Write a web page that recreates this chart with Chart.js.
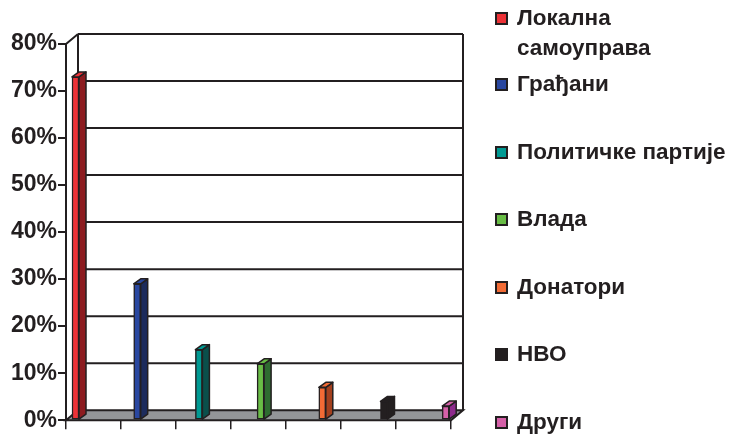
<!DOCTYPE html>
<html>
<head>
<meta charset="utf-8">
<script src="https://cdn.jsdelivr.net/npm/chart.js@4"></script>
<style>
body{margin:0;background:#fff;}
#wrap{position:relative;width:730px;height:435px;overflow:hidden;}
#c{position:absolute;left:0;top:0;}
#legend{position:absolute;left:495px;top:0;width:235px;height:435px;font:bold 22.5px "Liberation Sans",Arial,sans-serif;color:#231f20;}
.item{position:absolute;left:0;line-height:30px;white-space:nowrap;}
.box{position:absolute;left:0;top:9px;width:9px;height:9px;border:2px solid #231f20;}
.txt{position:absolute;left:22px;top:0;}
</style>
</head>
<body>
<div id="wrap">
<canvas id="c" width="730" height="435"></canvas>
<div id="legend"></div>
</div>
<script>
// data
var categories=[['Локална','самоуправа'],'Грађани','Политичке партије','Влада','Донатори','НВО','Други'];
var values=[73,29,15,12,7,4,3];
var yTicks=[0,10,20,30,40,50,60,70,80];

// colours
var frontColors=['#ed3237','#2947a0','#009a93','#68bd45','#f26b35','#231f20','#d560a8'];
var sideColors=['#8c1b1f','#1c2b5c','#0a4f4b','#2e6b30','#a3401e','#231f20','#8d2a8c'];
var ink='#231f20';

// html legend
var legend=document.getElementById('legend');
categories.forEach(function(c,i){
    var top=i==0?3:69+67.6*(i-1);
    var it=document.createElement('div');
    it.className='item';
    it.style.top=top+'px';
    var box=document.createElement('div');
    box.className='box';
    box.style.background=frontColors[i];
    var t=document.createElement('div');
    t.className='txt';
    t.innerHTML=Array.isArray(c)?c.join('<br>'):c;
    it.appendChild(box);it.appendChild(t);
    legend.appendChild(it);
});

var DX=12,DY=10,BDX=7,BDY=5;

var frame3d={
    id:'frame3d',
    beforeDatasetsDraw:function(chart){
        var ctx=chart.ctx,a=chart.chartArea,y=chart.scales.y;
        ctx.save();
        ctx.strokeStyle=ink;
        ctx.lineWidth=2;
        // back wall grid
        yTicks.forEach(function(v){
            if(v==0)return;
            var py=y.getPixelForValue(v)-DY;
            ctx.beginPath();ctx.moveTo(a.left+DX,py);ctx.lineTo(a.right+DX,py);ctx.stroke();
        });
        ctx.beginPath();
        ctx.moveTo(a.left+DX,a.top-DY);ctx.lineTo(a.left+DX,a.bottom-DY);
        ctx.moveTo(a.right+DX,a.top-DY);ctx.lineTo(a.right+DX,a.bottom-DY);
        ctx.moveTo(a.left,a.top);ctx.lineTo(a.left+DX,a.top-DY);
        ctx.stroke();
        // floor
        ctx.beginPath();
        ctx.moveTo(a.left,a.bottom);ctx.lineTo(a.right,a.bottom);
        ctx.lineTo(a.right+DX,a.bottom-DY);ctx.lineTo(a.left+DX,a.bottom-DY);
        ctx.closePath();
        ctx.fillStyle='#939598';
        ctx.fill();ctx.stroke();
        ctx.restore();
    },
    afterDatasetsDraw:function(chart){
        var ctx=chart.ctx;
        var bars=chart.getDatasetMeta(0).data;
        ctx.save();
        ctx.strokeStyle=ink;
        ctx.lineWidth=1.5;
        ctx.lineJoin='round';
        bars.forEach(function(b,i){
            var l=b.x-b.width/2,r=b.x+b.width/2;
            // side
            ctx.beginPath();
            ctx.moveTo(r,b.y);ctx.lineTo(r+BDX,b.y-BDY);ctx.lineTo(r+BDX,b.base-BDY);ctx.lineTo(r,b.base);
            ctx.closePath();
            ctx.fillStyle=sideColors[i];ctx.fill();ctx.stroke();
            // top
            ctx.beginPath();
            ctx.moveTo(l,b.y);ctx.lineTo(l+BDX,b.y-BDY);ctx.lineTo(r+BDX,b.y-BDY);ctx.lineTo(r,b.y);
            ctx.closePath();
            ctx.fillStyle=frontColors[i];ctx.fill();ctx.stroke();
        });
        ctx.restore();
    }
};

var ctx=document.getElementById('c').getContext('2d');
var chart=new Chart(ctx,{
    type:'bar',
    data:{
        datasets:[{
            data:values.map(function(v,i){return {x:i,y:v};}),
            backgroundColor:frontColors,
            borderColor:ink,
            borderWidth:1.5,
            borderSkipped:false,
            barThickness:7,
            clip:false
        }]
    },
    options:{
        responsive:false,
        animation:false,
        devicePixelRatio:1,
        layout:{padding:{left:0,right:279,top:44,bottom:0}},
        plugins:{legend:{display:false},tooltip:{enabled:false}},
        scales:{
            x:{type:'linear',display:false,offset:false,min:-0.154,max:6.086},
            x2:{
                type:'category',
                position:'bottom',
                labels:categories.map(function(c){return Array.isArray(c)?c.join(' '):c;}),
                offset:true,
                grid:{offset:true,drawOnChartArea:false,tickLength:9,color:ink,lineWidth:1.5},
                border:{display:false},
                ticks:{display:false},
                afterFit:function(s){s.height=10;}
            },
            y:{
                min:0,max:80,
                afterBuildTicks:function(s){s.ticks=yTicks.map(function(v){return {value:v};});},
                ticks:{
                    callback:function(v){return v+'%';},
                    color:ink,
                    padding:1,
                    font:{family:'"Liberation Sans", Arial, sans-serif',size:23,weight:'bold'}
                },
                grid:{drawOnChartArea:false,tickLength:8,color:ink,lineWidth:2},
                border:{display:true,color:ink,width:2},
                afterFit:function(s){s.width=66;}
            }
        }
    },
    plugins:[frame3d]
});
</script>
</body>
</html>
